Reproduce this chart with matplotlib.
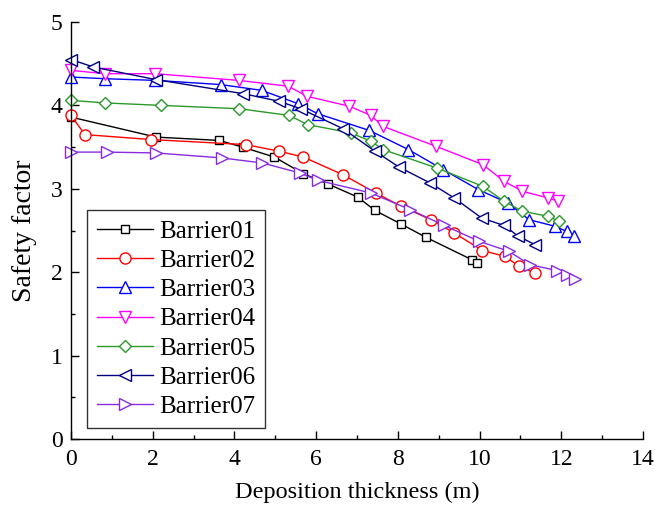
import numpy as np
import matplotlib.pyplot as plt
from matplotlib.ticker import MultipleLocator

plt.rcParams['font.family'] = ['Liberation Serif', 'DejaVu Serif']
plt.rcParams['mathtext.fontset'] = 'stix'

# === DATA ===
x01 = [0.0, 2.08, 3.63, 4.20, 4.98, 5.69, 6.28, 7.02, 7.44, 8.07, 8.68, 9.81, 9.94]
y01 = [3.86, 3.62, 3.58, 3.50, 3.38, 3.18, 3.06, 2.90, 2.74, 2.58, 2.42, 2.15, 2.11]

x02 = [0.0, 0.34, 1.97, 4.28, 5.10, 5.69, 6.65, 7.46, 8.08, 8.81, 9.38, 10.07, 10.62, 10.97, 11.36]
y02 = [3.88, 3.65, 3.59, 3.53, 3.45, 3.38, 3.17, 2.95, 2.79, 2.63, 2.47, 2.26, 2.19, 2.07, 1.99]

x03 = [0.0, 0.83, 2.06, 3.66, 4.67, 5.56, 6.04, 7.30, 8.26, 9.11, 9.97, 10.69, 11.21, 11.85, 12.13, 12.31]
y03 = [4.34, 4.32, 4.30, 4.25, 4.18, 4.02, 3.90, 3.70, 3.47, 3.23, 2.99, 2.83, 2.63, 2.55, 2.49, 2.44]

x04 = [0.0, 0.83, 2.06, 4.10, 5.32, 5.77, 6.81, 7.34, 7.63, 8.93, 10.08, 10.60, 11.05, 11.68, 11.93]
y04 = [4.42, 4.38, 4.38, 4.30, 4.23, 4.11, 3.99, 3.88, 3.75, 3.51, 3.29, 3.09, 2.97, 2.89, 2.85]

x05 = [0.0, 0.83, 2.20, 4.12, 5.34, 5.79, 6.85, 7.34, 7.64, 8.95, 10.08, 10.60, 11.05, 11.68, 11.95]
y05 = [4.06, 4.03, 4.00, 3.96, 3.88, 3.77, 3.67, 3.57, 3.47, 3.25, 3.03, 2.85, 2.73, 2.67, 2.61]

x06 = [0.0, 0.55, 2.07, 4.22, 5.09, 5.62, 6.66, 7.44, 8.03, 8.79, 9.38, 10.05, 10.60, 10.95, 11.36]
y06 = [4.55, 4.46, 4.31, 4.14, 4.05, 3.96, 3.72, 3.45, 3.26, 3.07, 2.89, 2.65, 2.56, 2.43, 2.33]

x07 = [0.0, 0.87, 2.08, 3.69, 4.68, 5.60, 6.05, 7.34, 8.30, 9.14, 9.99, 10.72, 11.23, 11.89, 12.13, 12.33]
y07 = [3.44, 3.44, 3.43, 3.37, 3.31, 3.19, 3.10, 2.95, 2.75, 2.56, 2.37, 2.25, 2.09, 2.02, 1.97, 1.92]

series = [
    ("Barrier01", x01, y01, "black", "s"),
    ("Barrier02", x02, y02, "red", "o"),
    ("Barrier03", x03, y03, "blue", "^"),
    ("Barrier04", x04, y04, "magenta", "v"),
    ("Barrier05", x05, y05, "#2a9a2a", "D"),
    ("Barrier06", x06, y06, "#000080", "<"),
    ("Barrier07", x07, y07, "#8a2be2", ">"),
]
msizes = {"s": 6.2, "o": 8, "^": 8.5, "v": 8.5, "D": 6.5, "<": 8.5, ">": 8.5}

fig = plt.figure(figsize=(6.55, 5.09), dpi=100)
ax = fig.add_axes([0.1084, 0.1375, 0.8733, 0.8193])

for name, xs, ys, col, mk in series:
    ax.plot(xs, ys, color=col, lw=1.0, marker=mk, ms=msizes[mk], mfc="white",
            mec=col, mew=1.0, label=name, clip_on=False)

ax.set_xlim(0, 14)
ax.set_ylim(0, 5)
ax.xaxis.set_major_locator(MultipleLocator(2))
ax.xaxis.set_minor_locator(MultipleLocator(1))
ax.yaxis.set_major_locator(MultipleLocator(1))
ax.yaxis.set_minor_locator(MultipleLocator(0.5))
ax.tick_params(which="major", direction="in", length=6, width=1, labelsize=17)
ax.tick_params(axis="x", which="major", pad=7)
ax.tick_params(axis="y", which="major", pad=6)
ax.tick_params(which="minor", direction="in", length=3, width=1)
for s in ["top", "right"]:
    ax.spines[s].set_visible(False)
for s in ["left", "bottom"]:
    ax.spines[s].set_linewidth(1.0)

ax.set_xlabel("Deposition thickness (m)", fontsize=17.5, labelpad=9)
ax.set_ylabel("Safety factor", fontsize=20, labelpad=10)

leg = ax.legend(loc="lower left", bbox_to_anchor=(0.028, 0.026), borderaxespad=0,
                fontsize=18, frameon=True, fancybox=False, edgecolor="black",
                handlelength=2.24, labelspacing=0.27, borderpad=0.4, handletextpad=0.25)
leg.get_frame().set_linewidth(1.0)

fig.savefig("out.png", dpi=100)
